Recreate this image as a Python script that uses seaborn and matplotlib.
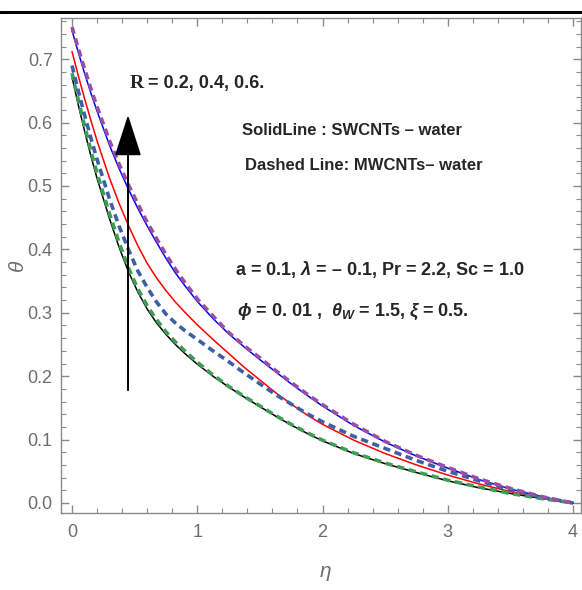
import seaborn as sns
import matplotlib.pyplot as plt
import pandas as pd
from matplotlib.ticker import MultipleLocator
from matplotlib.lines import Line2D

# eta grid and theta profiles
eta = [0, 0.05, 0.1, 0.15, 0.2, 0.3, 0.375, 0.45, 0.525, 0.6, 0.675, 0.75, 0.825, 0.9,
       1.0, 1.125, 1.25, 1.375, 1.5, 1.625, 1.75, 1.875, 2.0, 2.25, 2.5, 2.75, 3.0, 3.25,
       3.5, 3.75, 4.0]

# SWCNTs - water (solid), R = 0.2, 0.4, 0.6
sw_r02 = [0.672, 0.628, 0.587, 0.548, 0.512, 0.448, 0.404, 0.365, 0.333, 0.306, 0.284, 0.266,
          0.250, 0.236, 0.219, 0.200, 0.183, 0.167, 0.152, 0.137, 0.123, 0.110, 0.098, 0.078,
          0.062, 0.048, 0.035, 0.024, 0.015, 0.007, 0.0]
sw_r04 = [0.712, 0.674, 0.638, 0.604, 0.571, 0.512, 0.473, 0.438, 0.406, 0.378, 0.355, 0.335,
          0.317, 0.301, 0.281, 0.258, 0.236, 0.214, 0.194, 0.174, 0.156, 0.139, 0.124, 0.099,
          0.078, 0.060, 0.044, 0.030, 0.018, 0.008, 0.0]
sw_r06 = [0.745, 0.711, 0.678, 0.647, 0.618, 0.564, 0.528, 0.495, 0.465, 0.437, 0.411, 0.386,
          0.363, 0.343, 0.318, 0.291, 0.267, 0.246, 0.226, 0.207, 0.188, 0.170, 0.153, 0.122,
          0.096, 0.074, 0.055, 0.037, 0.022, 0.010, 0.0]

# MWCNTs - water (dashed), R = 0.2, 0.4, 0.6
mw_r02 = [0.678, 0.636, 0.595, 0.556, 0.520, 0.456, 0.411, 0.371, 0.338, 0.311, 0.289, 0.270,
          0.254, 0.240, 0.222, 0.202, 0.184, 0.168, 0.153, 0.138, 0.124, 0.111, 0.099, 0.079,
          0.063, 0.049, 0.036, 0.025, 0.015, 0.007, 0.0]
mw_r04 = [0.690, 0.650, 0.612, 0.576, 0.542, 0.479, 0.437, 0.400, 0.366, 0.340, 0.317, 0.298,
          0.284, 0.272, 0.258, 0.240, 0.223, 0.205, 0.188, 0.171, 0.156, 0.141, 0.128, 0.105,
          0.086, 0.067, 0.050, 0.035, 0.021, 0.009, 0.0]
mw_r06 = [0.751, 0.717, 0.685, 0.654, 0.625, 0.571, 0.535, 0.502, 0.472, 0.443, 0.417, 0.392,
          0.369, 0.348, 0.322, 0.295, 0.269, 0.248, 0.229, 0.209, 0.190, 0.172, 0.155, 0.124,
          0.097, 0.075, 0.056, 0.038, 0.023, 0.010, 0.0]

sns.set_style('ticks')
plt.rcParams['font.family'] = ['Liberation Sans', 'DejaVu Sans']
plt.rcParams['mathtext.fontset'] = 'custom'
plt.rcParams['mathtext.it'] = 'Liberation Sans:italic:bold'
plt.rcParams['mathtext.rm'] = 'Liberation Sans:bold'

fig = plt.figure(figsize=(5.82, 5.90), dpi=100)
ax = fig.add_axes([0.1048, 0.1305, 0.8932, 0.839])

solid = [(sw_r02, 'black'), (sw_r04, '#ff0000'), (sw_r06, '#0000ff')]
dashed = [(mw_r02, '#3f9d55'), (mw_r04, '#3d5fa6'), (mw_r06, '#9a4fa6')]

for vals, col in solid:
    d = pd.DataFrame({'eta': eta, 'theta': vals})
    sns.lineplot(data=d, x='eta', y='theta', color=col, lw=1.1, ax=ax)
for vals, col in dashed:
    d = pd.DataFrame({'eta': eta, 'theta': vals})
    sns.lineplot(data=d, x='eta', y='theta', color=col, lw=2.6, ax=ax,
                 linestyle=(0, (2.0, 1.3)))

ax.set_xlim(-0.088, 4.062)
ax.set_ylim(-0.0158, 0.765)
ax.xaxis.set_major_locator(MultipleLocator(1))
ax.xaxis.set_minor_locator(MultipleLocator(0.2))
ax.yaxis.set_major_locator(MultipleLocator(0.1))
ax.yaxis.set_minor_locator(MultipleLocator(0.02))
ax.set_xticks([0, 1, 2, 3, 4])
ax.set_xticklabels(['0', '1', '2', '3', '4'])
ax.set_yticks([0.0, 0.1, 0.2, 0.3, 0.4, 0.5, 0.6, 0.7])
ax.set_yticklabels(['0.0', '0.1', '0.2', '0.3', '0.4', '0.5', '0.6', '0.7'])

gray = '#8a8a8a'
for s in ax.spines.values():
    s.set_color(gray)
    s.set_linewidth(1.0)
ax.tick_params(which='both', direction='in', top=True, right=True, colors=gray,
               labelcolor='#6e6e6e', labelsize=13)
ax.tick_params(which='major', length=6, width=1.0)
ax.tick_params(which='minor', length=3.5, width=0.8)
ax.tick_params(axis='x', pad=8)
ax.tick_params(axis='y', pad=6)

ax.set_xlabel('\u03b7', color='#6e6e6e', fontsize=15, style='italic')
ax.set_ylabel('\u03b8', color='#6e6e6e', fontsize=15, style='italic')
ax.xaxis.set_label_coords(0.508, -0.099)
ax.yaxis.set_label_coords(-0.066, 0.50)

# R arrow
ax.annotate('', xy=(0.447, 0.612), xytext=(0.447, 0.178),
            arrowprops=dict(arrowstyle='-|>,head_length=1.3,head_width=0.42',
                            mutation_scale=20, color='black', lw=1.4,
                            shrinkA=0, shrinkB=0))

ax.text(0.463, 0.661, 'R', fontsize=14, fontweight='bold', family='Liberation Serif',
        ha='left', va='center')
ax.text(0.605, 0.661, '= 0.2, 0.4, 0.6.', fontsize=13, fontweight='bold',
        ha='left', va='center')
ax.text(1.357, 0.588, 'SolidLine : SWCNTs \u2013 water', fontsize=12, fontweight='bold',
        ha='left', va='center')
ax.text(1.381, 0.533, 'Dashed Line: MWCNTs\u2013 water', fontsize=12, fontweight='bold',
        ha='left', va='center')
ax.text(1.30, 0.369, 'a = 0.1, $\\lambda$ = \u2013 0.1, Pr = 2.2, Sc = 1.0',
        fontsize=13, fontweight='bold', ha='left', va='center')
ax.text(1.317, 0.301, r'$\phi$ = 0. 01 ,  $\theta_W$ = 1.5, $\xi$ = 0.5.',
        fontsize=13, fontweight='bold', ha='left', va='center')

# thick rule at the top of the page
fig.add_artist(Line2D([0, 1], [0.9797, 0.9797], transform=fig.transFigure,
                      color='black', lw=2.2))

fig.savefig('out.png', dpi=100)
